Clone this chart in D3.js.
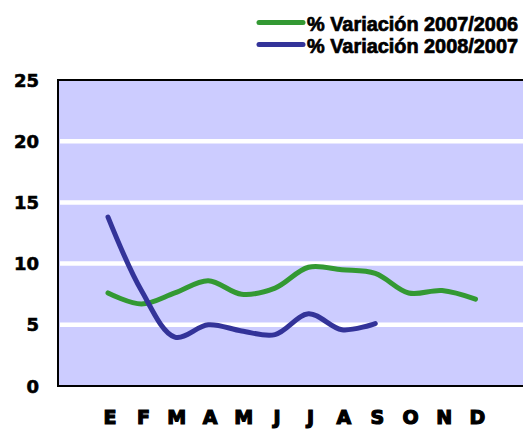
<!DOCTYPE html>
<html>
<head>
<meta charset="utf-8">
<script src="https://cdn.jsdelivr.net/npm/d3@7"></script>
<style>
  body { margin: 0; background: #fff; }
</style>
</head>
<body>
<div id="chart"></div>
<script>
var width = 523;
var height = 430;

var months = ['E', 'F', 'M', 'A', 'M', 'J', 'J', 'A', 'S', 'O', 'N', 'D'];
var var0706 = [7.6, 6.7, 7.6, 8.6, 7.5, 8.0, 9.7, 9.5, 9.2, 7.6, 7.8, 7.1];
var var0807 = [13.8, 7.8, 4.0, 5.0, 4.5, 4.2, 5.9, 4.6, 5.1];
var yTicks = [0, 5, 10, 15, 20, 25];
var seriesNames = ['% Variación 2007/2006', '% Variación 2008/2007'];
var seriesColors = ['#339933', '#333399'];

var svg = d3.select("#chart")
    .append("svg")
    .attr("width", width)
    .attr("height", height)

var plotLeft = 58, plotRight = 532, plotTop = 80, plotBottom = 386;

var x = d3.scalePoint()
    .domain(d3.range(months.length))
    .range([108, 475.5])

var y = d3.scaleLinear()
    .domain([0, 25])
    .range([plotBottom, plotTop])

// plot background
svg.append("rect")
    .attr("x", plotLeft)
    .attr("y", plotTop)
    .attr("width", plotRight - plotLeft)
    .attr("height", plotBottom - plotTop)
    .attr("fill", "#ccccff")
    .attr("stroke", "#000")
    .attr("stroke-width", 2)

// white gridlines
svg.selectAll(".grid")
    .data(yTicks.filter(function(d) { return d > 0 && d < 25; }))
    .enter()
    .append("line")
    .attr("class", "grid")
    .attr("x1", plotLeft + 2)
    .attr("x2", plotRight)
    .attr("y1", function(d) { return y(d); })
    .attr("y2", function(d) { return y(d); })
    .attr("stroke", "#fff")
    .attr("stroke-width", 4.5)

// y labels
svg.selectAll(".ylab")
    .data(yTicks)
    .enter()
    .append("text")
    .attr("class", "ylab")
    .attr("x", 39)
    .attr("y", function(d) { return y(d) + 6.5; })
    .attr("text-anchor", "end")
    .style("font-family", "'DejaVu Sans', sans-serif")
    .style("font-weight", "bold")
    .style("font-size", "18px")
    .style("stroke", "#000")
    .style("stroke-width", 0.6)
    .text(function(d) { return d; })

// x labels
svg.selectAll(".xlab")
    .data(months)
    .enter()
    .append("text")
    .attr("class", "xlab")
    .attr("x", function(d, i) { return x(i) + 2; })
    .attr("y", 424)
    .attr("text-anchor", "middle")
    .style("font-family", "'DejaVu Sans', sans-serif")
    .style("font-weight", "bold")
    .style("font-size", "19px")
    .style("stroke", "#000")
    .style("stroke-width", 1.2)
    .text(function(d) { return d; })

var line = d3.line()
    .x(function(d, i) { return x(i); })
    .y(function(d) { return y(d); })
    .curve(d3.curveCatmullRom.alpha(0.5))

svg.selectAll(".series")
    .data([var0706, var0807])
    .enter()
    .append("path")
    .attr("class", "series")
    .attr("d", function(d) { return line(d); })
    .attr("fill", "none")
    .attr("stroke", function(d, i) { return seriesColors[i]; })
    .attr("stroke-width", 5)
    .attr("stroke-linecap", "round")
    .attr("stroke-linejoin", "round")

// legend
var legend = svg.selectAll(".legend")
    .data(seriesNames)
    .enter()
    .append("g")
    .attr("class", "legend")
    .attr("transform", function(d, i) { return "translate(0," + (i * 22) + ")"; })

legend.append("line")
    .attr("x1", 259)
    .attr("x2", 303)
    .attr("y1", 22.5)
    .attr("y2", 22.5)
    .attr("stroke", function(d, i) { return seriesColors[i]; })
    .attr("stroke-width", 5)
    .attr("stroke-linecap", "round")

legend.append("text")
    .attr("x", 307)
    .attr("y", 30.5)
    .attr("textLength", 211)
    .attr("lengthAdjust", "spacingAndGlyphs")
    .style("font-family", "'Liberation Sans Narrow', 'Liberation Sans', sans-serif")
    .style("font-weight", "bold")
    .style("font-size", "19.5px")
    .style("stroke", "#000")
    .style("stroke-width", 0.7)
    .text(function(d) { return d; })
</script>
</body>
</html>
